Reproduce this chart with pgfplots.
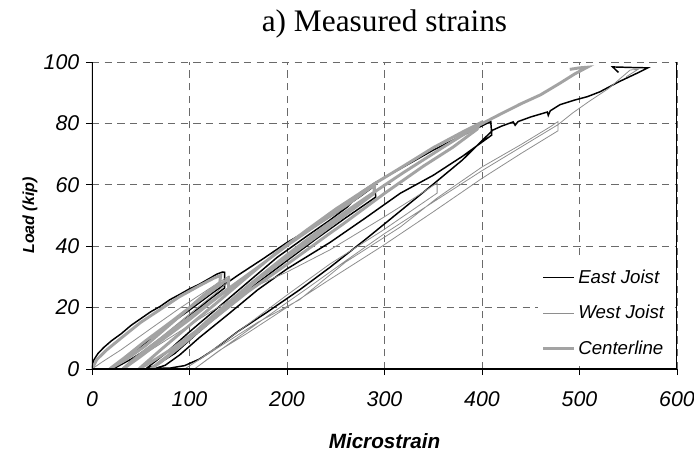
\documentclass[border=0pt]{standalone}
\usepackage{pgfplots}
\pgfplotsset{compat=1.18}
\usepackage{fontspec}
\setmainfont{Liberation Serif}
\newfontfamily\arial{Liberation Sans}
\definecolor{cline}{HTML}{A3A3A3}
\definecolor{wline}{HTML}{8E8E8E}
\definecolor{gridc}{HTML}{6A6A6A}
\begin{document}
\begin{tikzpicture}
\begin{axis}[name=ax, scale only axis, width=438.75pt, height=230.25pt,
 xmin=0,xmax=600,ymin=0,ymax=100,
 xtick={0,100,...,600}, ytick={0,20,...,100},
 axis line style={draw=none},
 grid=major, major grid style={gridc, line width=0.7pt, dash pattern=on 5.5pt off 4pt},
 tick align=outside, xtick pos=bottom, ytick pos=left, major tick length=4.5pt,
 tick style={black, line width=0.6pt},
 /pgf/number format/assume math mode=true,
 xticklabel={\pgfmathprintnumber{\tick}}, yticklabel={\pgfmathprintnumber{\tick}},
 ticklabel style={font=\arial\itshape\fontsize{16}{18}\selectfont},
 xticklabel style={yshift=-9pt},
 yticklabel style={xshift=-1.5pt},
 xlabel={Microstrain}, ylabel={Load (kip)}, title={a) Measured strains},
 every axis x label/.style={at={(axis description cs:0.5,-0.258)}, anchor=base, font=\arial\bfseries\itshape\fontsize{15.5}{18}\selectfont},
 every axis y label/.style={at={(axis description cs:-0.106,0.5)}, anchor=center, rotate=90, font=\arial\bfseries\itshape\fontsize{12}{14}\selectfont},
 every axis title/.style={at={(axis description cs:0.5,1)}, anchor=base, yshift=23pt, font=\fontsize{23.5}{27}\selectfont},
 legend style={at={(rel axis cs:0.762,0.355)}, anchor=north west, draw=none, fill=white,
   font=\arial\itshape\fontsize{14}{16}\selectfont, row sep=11pt, inner xsep=3pt, inner ysep=5pt},
 legend cell align=left,
 legend image code/.code={\draw[#1] (0pt,0pt) -- (23pt,0pt);},
]
% East Joist
\addplot[black, line width=1.1pt] coordinates {
(0,0) (2,3) (6,5) (12,7) (20,9.2) (30,11.5) (40,14.2) (50,16.4) (60,18.6) (70,20.4) (80,22.6) (90,24.3) (100,26.1) (110,27.6) (120,29.4) (128,30.9) (134,31.6) (136,31.5)
(136,26.4) (120,22.5) (100,17.3) (80,12.2) (60,7.1) (40,3.2) (25,0.6) (20,0)
(35,3.5) (55,8.6) (75,13.5) (100,19.2) (125,25.1) (150,30.6) (175,35.8) (200,41.2) (225,45.8) (250,50.8) (275,56.2) (290,59.7)
(291,56) (260,49.2) (230,42.4) (200,35.3) (170,28.1) (140,20.3) (110,12.2) (85,5.1) (65,1.1) (55,0)
(75,5) (100,12.1) (130,20.2) (160,28.3) (190,36.4) (220,43.2) (244,48.5) (262,52.8) (275,57.4) (290,60.6) (316,65.2) (350,71.3) (380,76.1) (400,79.2) (409,80.6)
(410,76.2) (380,69.3) (350,63.1) (316,57.2) (280,49.1) (244,41.2) (200,32.6) (170,25.8) (140,17.9) (110,10.2) (90,4.6) (75,1.2) (65,0.2) (80,0.3) (95,1.1)
(110,3.2) (124,6.1) (150,12.3) (180,18.6) (213,25.8) (244,33.1) (280,42.1) (316,51.4) (350,60.2) (380,68.1) (411,77.8) (420,79.1) (432,80.5) (434,79.4) (437,80.6) (450,82.1) (467,83.7) (468,82.6) (470,84.1) (480,86.1) (495,87.6) (508,88.7) (521,90.3) (540,93.5) (560,96.5) (570,98.1) (555,98.2) (534,98.4) (540,96.6)
};
\addlegendentry{East Joist}
% West Joist
\addplot[wline, line width=0.6pt] coordinates {
(0,0) (10,2.2) (30,6.3) (60,13.1) (90,19.8) (120,26.1) (140,30.2) (142,29.1) (125,24.2) (100,17.9) (70,10.1) (45,4.2) (30,0)
(50,4.1) (80,10.2) (120,18.3) (160,25.9) (200,31.6) (244,38.8) (298,49.2) (330,55.6) (354,60.6)
(354,57.3) (298,45.1) (244,34.2) (200,24.1) (150,12.2) (110,3.1) (95,0)
(130,7.1) (170,15.2) (213,22.6) (260,34.8) (316,46.2) (354,55.7) (400,65.8) (440,73.1) (470,78.9) (478,80.6)
(478,77.6) (440,70.2) (400,62.1) (350,51.2) (298,40.1) (244,29.2) (200,20.1) (160,11.8) (130,5.9) (105,0)
(140,8.1) (180,17.2) (220,26.1) (260,35.2) (300,44.1) (354,55.2) (400,64.6) (440,72.3) (478,79.6) (493,83.4) (510,87.2) (530,91.4) (552,97.4) (560,97.6) (548,95.2)
};
\addlegendentry{West Joist}
% Centerline
\addplot[cline, line width=2.2pt] coordinates {
(0,0) (5,3.1) (15,6.2) (30,10.1) (50,15.2) (70,19.4) (90,23.6) (110,27.1) (125,29.6) (132,30.5)
(131,28.1) (115,24.2) (95,18.6) (75,13.1) (55,7.6) (35,3.1) (18,0)
(35,4.1) (55,9.2) (80,15.1) (105,21.2) (130,27.1) (140,29.5)
(140,26.1) (120,21.2) (100,16.1) (75,10.2) (50,4.1) (32,0)
(55,6.1) (80,12.2) (110,19.1) (140,26.2) (170,33.1) (200,40.2) (230,46.8) (260,53.1) (285,58.9) (290,60.1)
(289,57.1) (260,50.2) (230,43.1) (200,36.2) (170,29.1) (140,21.2) (110,13.1) (80,6.2) (60,2.1) (48,0)
(70,6.1) (100,14.2) (130,22.1) (160,30.2) (190,38.1) (220,45.2) (250,52.1) (290,60.4) (320,66.2) (350,72.1) (380,77.2) (398,80.1)
(395,78.1) (370,72.2) (340,66.1) (300,57.2) (257,47.1) (244,44.2) (200,34.1) (160,25.2) (120,15.1) (90,7.2) (70,2.1) (60,0)
(85,6.1) (120,16.2) (160,27.1) (200,37.2) (240,46.8) (280,55.6) (320,64.1) (360,72.2) (395,79.1) (420,83.2) (440,86.4) (460,89.3) (480,93.1) (495,96.1) (508,98.3) (500,98.1) (490,97.6)
};
\addlegendentry{Centerline}
\draw[black, line width=1.1pt] (rel axis cs:0,1) -- (rel axis cs:0,0) -- (rel axis cs:1,0);
\draw[black, line width=0.8pt] (rel axis cs:1,0) -- (rel axis cs:1,1);
\end{axis}
\pgfresetboundingbox
\path[use as bounding box] ([xshift=-69pt,yshift=-61.5pt]ax.south west) rectangle ([xshift=451.5pt,yshift=276.75pt]ax.south west);
\end{tikzpicture}
\end{document}
